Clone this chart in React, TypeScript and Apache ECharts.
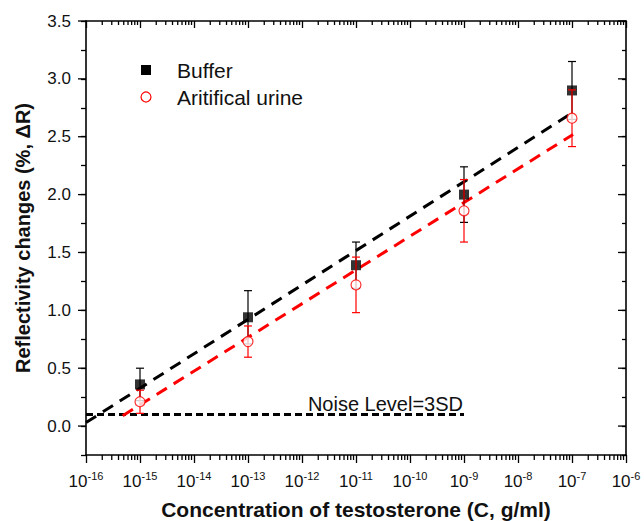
import React, { useEffect, useRef } from "react";
import * as echarts from "echarts";

// ---- data (x given as log10 of concentration, g/ml) ----
const concentrationExp = [-15, -13, -11, -9, -7];
const bufferMean = [0.36, 0.94, 1.39, 2.0, 2.9];
const bufferErr = [0.14, 0.23, 0.2, 0.24, 0.25];
const urineMean = [0.21, 0.73, 1.22, 1.86, 2.66];
const urineErr = [0.1, 0.135, 0.24, 0.27, 0.245];

const bufferFitX = [-16, -7.02];
const bufferFitY = [0.03, 2.7];
const urineFitX = [-15.32, -6.98];
const urineFitY = [0.09, 2.52];
const noiseX = [-16, -9];
const noiseY = [0.1, 0.1];

const xDecades = [-16, -15, -14, -13, -12, -11, -10, -9, -8, -7];
const yMajorTicks = [0, 0.5, 1.0, 1.5, 2.0, 2.5, 3.0, 3.5];
const minorMultipliers = [2, 3, 4, 5, 6, 7, 8, 9];

const X_MIN = -16, X_MAX = -6, Y_MIN = -0.25, Y_MAX = 3.5;
const FONT = "'Liberation Sans', Arial, sans-serif";

export default function App() {
  const ref = useRef<HTMLDivElement>(null);
  useEffect(() => {
    document.body.style.margin = "0";
    const chart = echarts.init(ref.current!, null, { renderer: "svg" });

    const xMinorData: number[][] = [];
    xDecades.forEach((d) =>
      minorMultipliers.forEach((m) => xMinorData.push([d + Math.log10(m), 1.5, 1.5]))
    );
    const yMajorData = yMajorTicks.map((v) => [-11, v, v]);

    const errData = (means: number[], errs: number[]) =>
      concentrationExp.map((x, i) => [x, means[i] - errs[i], means[i] + errs[i]]);

    const errRender = (color: string) => (params: any, api: any) => {
      const x = api.value(0), lo = api.value(1), hi = api.value(2);
      const a = api.coord([x, lo]);
      const b = api.coord([x, hi]);
      const c = 4;
      const st = { stroke: color, lineWidth: 1.2 };
      return {
        type: "group",
        children: [
          { type: "line", shape: { x1: a[0], y1: a[1], x2: b[0], y2: b[1] }, style: st },
          { type: "line", shape: { x1: a[0] - c, y1: a[1], x2: a[0] + c, y2: a[1] }, style: st },
          { type: "line", shape: { x1: b[0] - c, y1: b[1], x2: b[0] + c, y2: b[1] }, style: st },
        ],
      };
    };

    const xMinorRender = (params: any, api: any) => {
      const x = api.value(0);
      const b = api.coord([x, Y_MIN]);
      const t = api.coord([x, Y_MAX]);
      const st = { stroke: "#000", lineWidth: 1.3 };
      return {
        type: "group",
        children: [
          { type: "line", shape: { x1: b[0], y1: b[1], x2: b[0], y2: b[1] + 5 }, style: st },
          { type: "line", shape: { x1: t[0], y1: t[1], x2: t[0], y2: t[1] + 4 }, style: st },
        ],
      };
    };
    const yMajorRender = (params: any, api: any) => {
      const y = api.value(1);
      const l = api.coord([X_MIN, y]);
      const r = api.coord([X_MAX, y]);
      const st = { stroke: "#000", lineWidth: 1.3 };
      return {
        type: "group",
        children: [
          { type: "line", shape: { x1: l[0] - 8, y1: l[1], x2: l[0], y2: l[1] }, style: st },
          { type: "line", shape: { x1: r[0] - 8, y1: r[1], x2: r[0], y2: r[1] }, style: st },
        ],
      };
    };

    const option: any = {
      animation: false,
      grid: { left: 86, right: 18, top: 21, bottom: 66, outerBoundsMode: "none" },
      xAxis: [
        {
          type: "value",
          min: X_MIN,
          max: X_MAX,
          interval: 1,
          position: "bottom",
          axisLine: { onZero: false, lineStyle: { color: "#000", width: 1.6 } },
          axisTick: { show: true, inside: false, length: 8, lineStyle: { color: "#000", width: 1.3 } },
          splitLine: { show: false },
          axisLabel: {
            margin: 15,
            fontSize: 17,
            fontFamily: FONT,
            color: "#111",
            formatter: (v: number) => `{base|10}{sup|${Math.round(v)}}`,
            rich: {
              base: { fontSize: 17, fontFamily: FONT, color: "#111", verticalAlign: "bottom", lineHeight: 20 },
              sup: { fontSize: 11, fontFamily: FONT, color: "#111", verticalAlign: "top", lineHeight: 12 },
            },
          },
          name: "Concentration of testosterone (C, g/ml)",
          nameLocation: "middle",
          nameGap: 44,
          nameTextStyle: { fontSize: 21, fontWeight: "bold", fontFamily: FONT, color: "#111" },
        },
        {
          type: "value",
          min: X_MIN,
          max: X_MAX,
          interval: 1,
          position: "top",
          axisLine: { onZero: false, lineStyle: { color: "#000", width: 1.6 } },
          axisTick: { show: true, inside: true, length: 7, lineStyle: { color: "#000", width: 1.3 } },
          axisLabel: { show: false },
          splitLine: { show: false },
        },
      ],
      yAxis: [
        {
          type: "value",
          min: Y_MIN,
          max: Y_MAX,
          interval: 0.25,
          position: "left",
          axisLine: { show: true, onZero: false, lineStyle: { color: "#000", width: 1.6 } },
          axisTick: { show: true, inside: false, length: 5, lineStyle: { color: "#000", width: 1.3 } },
          splitLine: { show: false },
          axisLabel: {
            margin: 15,
            fontSize: 17,
            fontFamily: FONT,
            color: "#111",
            formatter: (v: number) => {
              const r = Math.round(v * 100) / 100;
              return Math.abs(r * 2 - Math.round(r * 2)) < 1e-6 && r >= 0 ? r.toFixed(1) : "";
            },
          },
          name: "Reflectivity changes (%, ΔR)",
          nameLocation: "middle",
          nameGap: 53,
          nameTextStyle: { fontSize: 20, fontWeight: "bold", fontFamily: FONT, color: "#111" },
        },
        {
          type: "value",
          min: Y_MIN,
          max: Y_MAX,
          interval: 0.25,
          position: "right",
          axisLine: { show: true, onZero: false, lineStyle: { color: "#000", width: 1.6 } },
          axisTick: { show: true, inside: true, length: 4, lineStyle: { color: "#000", width: 1.3 } },
          axisLabel: { show: false },
          splitLine: { show: false },
        },
      ],
      graphic: [
        { type: "rect", shape: { x: 141, y: 65, width: 10, height: 10 }, style: { fill: "#000" } },
        { type: "text", x: 177, y: 70, style: { text: "Buffer", fontSize: 21, fontFamily: FONT, fill: "#111", textVerticalAlign: "middle" } },
        { type: "circle", shape: { cx: 146, cy: 97, r: 5 }, style: { fill: "#fff", stroke: "#f00", lineWidth: 1.2 } },
        { type: "text", x: 177, y: 97, style: { text: "Aritifical urine", fontSize: 21, fontFamily: FONT, fill: "#111", textVerticalAlign: "middle" } },
        { type: "text", x: 463, y: 404, style: { text: "Noise Level=3SD", fontSize: 20, fontFamily: FONT, fill: "#111", textAlign: "right", textVerticalAlign: "middle" } },
      ],
      series: [
        {
          type: "custom",
          name: "x minor ticks",
          data: xMinorData,
          encode: { x: 0, y: [1, 2] },
          renderItem: xMinorRender,
          z: 10,
        },
        {
          type: "custom",
          name: "y major ticks",
          data: yMajorData,
          encode: { x: 0, y: [1, 2] },
          renderItem: yMajorRender,
          z: 10,
        },
        {
          type: "line",
          name: "noise",
          data: noiseX.map((x, i) => [x, noiseY[i]]),
          symbol: "none",
          lineStyle: { color: "#000", width: 3, type: [7, 4] },
          z: 2,
        },
        {
          type: "line",
          name: "Buffer fit",
          data: bufferFitX.map((x, i) => [x, bufferFitY[i]]),
          symbol: "none",
          lineStyle: { color: "#000", width: 3, type: [12, 8] },
          z: 2,
        },
        {
          type: "line",
          name: "Urine fit",
          data: urineFitX.map((x, i) => [x, urineFitY[i]]),
          symbol: "none",
          lineStyle: { color: "#ff0000", width: 3, type: [12, 8] },
          z: 2,
        },
        {
          type: "custom",
          name: "Buffer err",
          data: errData(bufferMean, bufferErr),
          encode: { x: 0, y: [1, 2] },
          renderItem: errRender("#000"),
          z: 3,
        },
        {
          type: "scatter",
          name: "Buffer",
          data: concentrationExp.map((x, i) => [x, bufferMean[i]]),
          symbol: "rect",
          symbolSize: 10,
          itemStyle: { color: "#000" },
          z: 4,
        },
        {
          type: "custom",
          name: "Urine err",
          data: errData(urineMean, urineErr),
          encode: { x: 0, y: [1, 2] },
          renderItem: errRender("#ff0000"),
          z: 5,
        },
        {
          type: "scatter",
          name: "Aritifical urine",
          data: concentrationExp.map((x, i) => [x, urineMean[i]]),
          symbol: "circle",
          symbolSize: 10,
          itemStyle: { color: "#fff", borderColor: "#ff0000", borderWidth: 1.2 },
          z: 6,
        },
      ],
    };
    chart.setOption(option);
    return () => chart.dispose();
  }, []);
  return <div ref={ref} style={{ width: 644, height: 521 }} />;
}
